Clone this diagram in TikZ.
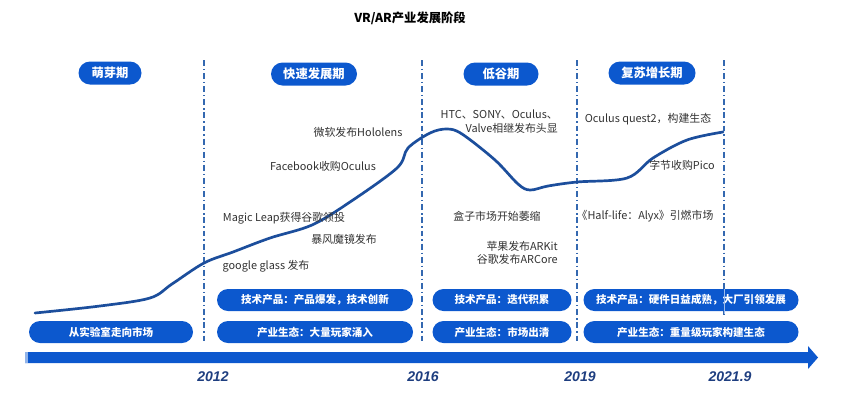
\documentclass[tikz,border=0pt]{standalone}
\usepackage{fontspec}
\setmainfont{Liberation Sans}
\newfontfamily\cjk{Noto Sans CJK SC}
\usetikzlibrary{positioning}
\usetikzlibrary{shapes.misc}

\definecolor{pillblue}{RGB}{12,88,206}
\definecolor{curveblue}{RGB}{28,78,156}
\definecolor{lineblue}{RGB}{52,104,176}
\definecolor{yearblue}{RGB}{30,62,128}
\definecolor{eventgray}{RGB}{50,50,50}

\tikzset{
  phase/.style={rounded rectangle,fill=pillblue,text=white,minimum height=23*0.03cm,inner sep=0pt,font=\cjk\bfseries\fontsize{10.5}{12}\selectfont},
  pill/.style={rounded rectangle,fill=pillblue,text=white,minimum height=22*0.03cm,inner sep=0pt,font=\cjk\bfseries\fontsize{9}{11}\selectfont},
  event/.style={text=eventgray,inner sep=0pt,font=\cjk\fontsize{9.3}{11.5}\selectfont},
  yearlabel/.style={text=yearblue,inner sep=0pt,font=\bfseries\itshape\fontsize{12}{14}\selectfont},
  sepline/.style={lineblue,line width=1.1pt,dash pattern=on 5pt off 2.5pt on 1.2pt off 2.5pt}
}

\begin{document}
\begin{tikzpicture}[x=0.03cm,y=-0.03cm]
\useasboundingbox (0,0) rectangle (844,406);

\node[inner sep=0pt,font=\cjk\bfseries\fontsize{10.5}{12}\selectfont] (title) at (410,18) {VR/AR产业发展阶段};

\draw[sepline] (204,60) -- (204,342);
\draw[sepline] (422,60) -- (422,342);
\draw[sepline] (577,60) -- (577,342);
\draw[sepline] (724,60) -- (724,316);

\node[phase,minimum width=63*0.03cm] (ph1) at (110,73) {萌芽期};
\node[phase,minimum width=86*0.03cm] (ph2) at (314,74) {快速发展期};
\node[phase,minimum width=75*0.03cm] (ph3) at (501,74) {低谷期};
\node[phase,minimum width=87*0.03cm] (ph4) at (652,73) {复苏增长期};

\draw[curveblue,line width=2.3pt,line cap=round] plot[smooth,tension=0.55] coordinates {
 (35,313) (100,306) (150,298) (172,284) (204,263) (233,252) (270,238) (312,225)
 (350,202) (397,168) (408,148) (430,133) (447,129) (462,134) (495,160) (518,184)
 (530,190) (548,186) (577,182) (627,178) (653,158) (687,140) (723,132)};

\node[event] (hololens) at (358,132) {微软发布Hololens};
\node[event] (facebook) at (323,166) {Facebook收购Oculus};
\node[event] (magicleap) at (284,218) {Magic Leap获得谷歌领投};
\node[event] (baofeng) at (344,239) {暴风魔镜发布};
\node[event] (glass) at (266,266) {google glass 发布};
\node[event,align=right,anchor=north east] (htc) at (558,110) {HTC、SONY、Oculus、\\Valve相继发布头显};
\node[event] (box) at (497,216) {盒子市场开始萎缩};
\node[event,align=right,anchor=north east] (arkit) at (558,241) {苹果发布ARKit\\谷歌发布ARCore};
\node[event] (quest) at (648,119) {Oculus quest2，构建生态};
\node[event] (pico) at (682,165) {字节收购Pico};
\node[event] (alyx) at (645,216) {《Half-life：Alyx》引燃市场};

\node[pill,minimum width=164*0.03cm] (eco1) at (111,332) {从实验室走向市场};
\node[pill,minimum width=196*0.03cm] (tech2) at (315,300) {技术产品：产品爆发，技术创新};
\node[pill,minimum width=196*0.03cm] (eco2) at (315,332) {产业生态：大量玩家涌入};
\node[pill,minimum width=139*0.03cm] (tech3) at (502,300) {技术产品：迭代积累};
\node[pill,minimum width=139*0.03cm] (eco3) at (502,332) {产业生态：市场出清};
\node[pill,minimum width=215*0.03cm] (tech4) at (691,300) {技术产品：硬件日益成熟，大厂引领发展};
\node[pill,minimum width=215*0.03cm] (eco4) at (691,332) {产业生态：重量级玩家构建生态};
\draw[white!60!pillblue,line width=0.8pt] (724,289) -- (724,314);

\fill[pillblue] (25,352) -- (808,352) -- (808,346) -- (818,357.5) -- (808,369) -- (808,363) -- (25,363) -- cycle;
\fill[pillblue!45!white] (25,352) rectangle (28,363);

\node[yearlabel] (y2012) at (213,377) {2012};
\node[yearlabel] (y2016) at (423,377) {2016};
\node[yearlabel] (y2019) at (580,377) {2019};
\node[yearlabel] (y2021) at (730,377) {2021.9};

\end{tikzpicture}
\end{document}
